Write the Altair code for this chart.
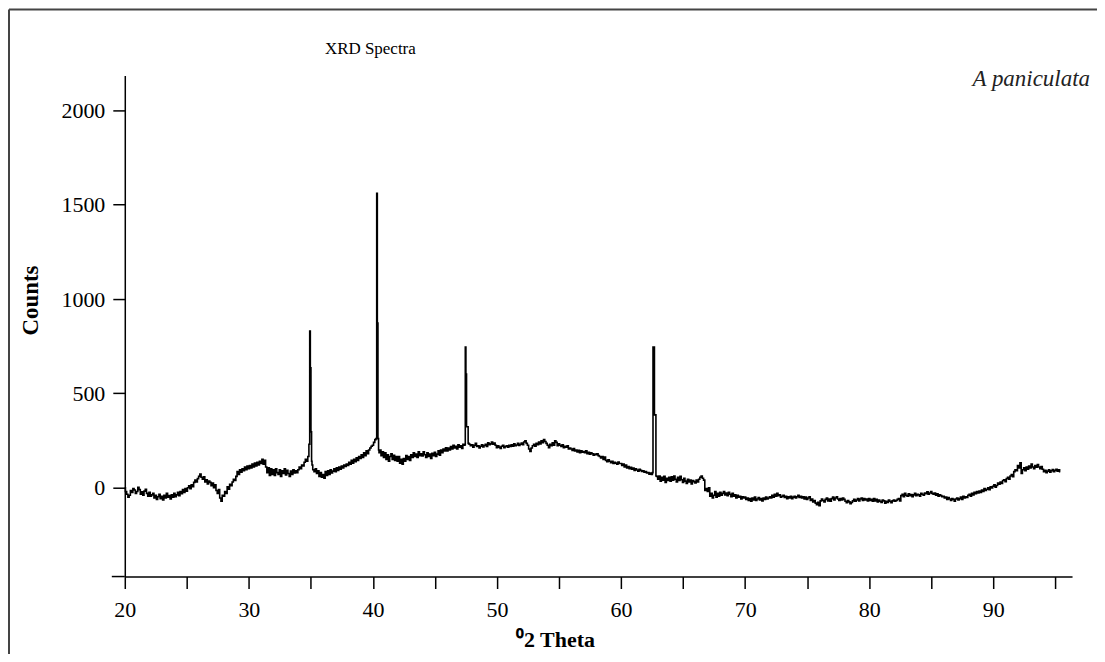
import altair as alt
import pandas as pd
import numpy as np

# ---- data ----
theta_start = 20.0
theta_step = 0.1
# baseline counts every 0.1 degree from 20.0 to 95.4
baseline_counts = [
    0, -20, -35, -50, -40, -15, -25, -5, -12, -30, -20, 2, -10, -35, -22, -40, -18, -8, -30, -45,          # 20
    -25, -45, -38, -30, -55, -40, -62, -48, -35, -58, -45, -65, -40, -55, -30, -50, -42, -60, -38, -50,    # 22
    -30, -48, -38, -25, -42, -20, -32, -10, -25, -5, -18, 0, 10, -5, 15, 5, 28, 40, 30, 48,                # 24
    60, 72, 55, 45, 58, 30, 42, 20, 35, 28, 10, 25, 0, 15, -15, -30, -10, -55, -72, -40,                   # 26
    -45, -20, -30, 5, -8, 18, 10, 30, 45, 38, 60, 85, 70, 95, 82, 100, 90, 110, 95, 115,                   # 28
    100, 118, 105, 125, 110, 130, 115, 135, 120, 140, 128, 150, 125, 145, 110, 80, 105, 65, 100, 70,       # 30
    95, 65, 100, 80, 70, 95, 60, 90, 75, 100, 68, 92, 75, 60, 88, 70, 95, 78, 90, 80,                      # 32
    95, 110, 100, 120, 115, 135, 150, 140, 165, 180, 110, 120, 95, 85, 100, 75, 90, 60, 80, 55,            # 34
    70, 50, 85, 65, 90, 70, 95, 78, 88, 100, 85, 105, 92, 110, 98, 115, 105, 120, 112, 125,                # 36
    118, 135, 125, 145, 130, 150, 138, 158, 145, 165, 155, 175, 160, 185, 170, 195, 180, 200, 210, 220,    # 38
    225, 240, 255, 250, 250, 185, 200, 170, 190, 160, 185, 150, 175, 140, 165, 180, 150, 172, 145, 165,    # 40
    140, 165, 130, 150, 125, 155, 140, 170, 150, 165, 145, 175, 160, 185, 165, 178, 160, 190, 170, 180,    # 42
    168, 190, 175, 160, 185, 165, 178, 155, 182, 170, 188, 165, 178, 195, 172, 200, 185, 205, 195, 212,    # 44
    195, 210, 200, 218, 205, 225, 210, 220, 205, 228, 215, 222, 208, 230, 225, 232, 230, 230, 230, 222,    # 46
    228, 215, 225, 235, 218, 222, 210, 220, 228, 216, 224, 230, 218, 238, 228, 232, 242, 230, 236, 225,    # 48
    212, 222, 215, 208, 220, 225, 212, 218, 222, 214, 225, 218, 228, 220, 232, 222, 226, 235, 224, 230,    # 50
    236, 228, 242, 248, 235, 225, 205, 192, 210, 222, 230, 220, 235, 228, 242, 232, 248, 238, 255, 245,    # 52
    235, 225, 212, 230, 222, 238, 225, 248, 240, 222, 232, 225, 218, 228, 212, 220, 214, 222, 205, 210,    # 54
    205, 198, 208, 195, 200, 190, 198, 186, 195, 188, 192, 185, 196, 180, 188, 178, 185, 180, 172, 178,    # 56
    175, 180, 170, 165, 158, 165, 150, 162, 145, 138, 148, 140, 132, 140, 128, 135, 130, 125, 136, 128,    # 58
    128, 118, 125, 110, 120, 105, 112, 100, 108, 98, 104, 92, 100, 94, 88, 98, 92, 86, 90, 82,             # 60
    85, 78, 80, 72, 78, 70, 70, 70, 70, 60, 45, 62, 35, 55, 40, 60, 28, 50, 38, 55,                        # 62
    35, 58, 40, 62, 45, 30, 55, 38, 60, 42, 28, 50, 35, 22, 45, 30, 40, 20, 38, 32,                        # 64
    25, 40, 30, 45, 55, 62, 50, 40, -15, -5, -20, 0, -45, -30, -55, -40, -20, -50, -30, -45,               # 66
    -25, -40, -30, -20, -38, -28, -42, -25, -35, -48, -30, -45, -38, -55, -40, -50, -45, -60, -48, -55,    # 68
    -50, -62, -55, -68, -58, -72, -55, -65, -50, -68, -60, -52, -65, -58, -70, -55, -62, -50, -60, -55,    # 70
    -48, -55, -40, -50, -35, -45, -30, -42, -38, -50, -45, -40, -52, -45, -58, -48, -55, -45, -58, -50,    # 72
    -45, -55, -48, -40, -52, -45, -55, -48, -60, -50, -62, -55, -48, -68, -60, -75, -68, -82, -90, -78,    # 74
    -95, -70, -60, -68, -75, -62, -55, -70, -60, -72, -58, -50, -65, -55, -48, -60, -68, -58, -65, -55,    # 76
    -62, -72, -80, -68, -75, -85, -78, -70, -62, -72, -65, -58, -70, -60, -55, -68, -58, -65, -60, -70,    # 78
    -58, -68, -62, -72, -58, -70, -62, -75, -66, -72, -78, -65, -70, -82, -72, -78, -66, -72, -80, -70,    # 80
    -65, -72, -68, -62, -58, -70, -42, -35, -48, -30, -40, -45, -32, -42, -36, -48, -38, -30, -42, -35,    # 82
    -38, -45, -30, -35, -40, -28, -32, -22, -35, -28, -20, -30, -35, -28, -40, -32, -45, -38, -42, -48,    # 84
    -45, -55, -50, -62, -52, -60, -68, -58, -62, -72, -60, -55, -65, -58, -50, -62, -45, -55, -48, -52,    # 86
    -40, -35, -45, -30, -38, -25, -32, -20, -28, -18, -25, -12, -20, -5, -15, -8, 0, -10, 5, -2,           # 88
    8, 15, 2, 12, 25, 18, 30, 22, 38, 42, 32, 48, 55, 45, 62, 70, 58, 85, 95, 90,                          # 90
    118, 105, 132, 75, 95, 105, 90, 110, 98, 115, 105, 125, 110, 100, 118, 108, 122, 110, 100, 112,        # 92
    98, 85, 92, 80, 88, 95, 82, 90, 96, 85, 92, 98, 88, 95, 85,                                            # 94
]

# sharp diffraction peaks
peak_theta = [34.88, 34.93, 34.98, 35.03, 35.08,
              40.28, 40.33, 40.38, 40.43, 40.48,
              47.42, 47.47, 47.52, 47.57, 47.65, 47.70,
              62.55, 62.60, 62.66, 62.72, 62.78, 62.84]
peak_counts = [230, 830, 635, 296, 140,
               260, 1560, 873, 260, 200,
               228, 746, 603, 323, 323, 235,
               80, 746, 746, 386, 386, 62]
peak_windows = [(34.88, 35.08), (40.28, 40.48), (47.42, 47.70), (62.55, 62.84)]

x_ticks = [20, 25, 30, 35, 40, 45, 50, 55, 60, 65, 70, 75, 80, 85, 90, 95]
y_ticks = [0, 500, 1000, 1500, 2000]

chart_title = "XRD Spectra"
sample_name = "A paniculata"
x_title = "\u20702 Theta"
y_title = "Counts"

# ---- build table ----
grid = np.round(theta_start + theta_step * np.arange(len(baseline_counts)), 2)
base = pd.DataFrame({"theta": grid, "counts": baseline_counts})
mask = np.ones(len(base), dtype=bool)
for lo, hi in peak_windows:
    mask &= ~((base["theta"] >= lo - 1e-9) & (base["theta"] <= hi + 1e-9))
base = base[mask]
peaks = pd.DataFrame({"theta": peak_theta, "counts": peak_counts})
df = pd.concat([base, peaks]).sort_values("theta").reset_index(drop=True)
df["order"] = np.arange(len(df))

FONT = "Liberation Serif"
W, H = 949, 502

xscale = alt.Scale(domain=[20, 96.35], nice=False, zero=False)
yscale = alt.Scale(domain=[-471, 2185], nice=False, zero=False)

line = alt.Chart(df).mark_line(color="black", strokeWidth=1.6, interpolate="step").encode(
    x=alt.X("theta:Q", scale=xscale, axis=alt.Axis(
        values=x_ticks,
        labelExpr="datum.value % 10 === 0 ? datum.label : ''",
        tickSize=12, tickWidth=1.5, tickColor="black",
        domainColor="black", domainWidth=1.5,
        labelFont=FONT, labelFontSize=22, labelColor="black",
        labelPadding=11, labelFlush=False, grid=False,
        title=x_title, titleFont=FONT, titleFontSize=22,
        titleFontWeight="bold", titleColor="black",
        titleX=431, titleY=70, titleAlign="center", titleBaseline="alphabetic",
    )),
    y=alt.Y("counts:Q", scale=yscale, axis=alt.Axis(
        values=y_ticks, format="d",
        tickSize=12, tickWidth=1.5, tickColor="black",
        domainColor="black", domainWidth=1.5,
        labelFont=FONT, labelFontSize=22, labelColor="black",
        labelPadding=8, grid=False,
        title=y_title, titleFont=FONT, titleFontSize=23,
        titleFontWeight="bold", titleColor="black",
        titleX=-94, titleY=225, titleAngle=270,
        titleAlign="center", titleBaseline="middle",
    )),
    order="order:Q",
)

one = pd.DataFrame({"t": [chart_title]})
title_mark = alt.Chart(one).mark_text(
    font=FONT, fontSize=17, align="center", baseline="alphabetic", color="black"
).encode(x=alt.value(246), y=alt.value(-22), text="t:N")

two = pd.DataFrame({"t": [sample_name]})
sample_mark = alt.Chart(two).mark_text(
    font=FONT, fontSize=23, fontStyle="italic", align="right",
    baseline="alphabetic", color="#222"
).encode(x=alt.value(967), y=alt.value(11), text="t:N")

dummy = pd.DataFrame({"a": [0]})
x_ext = alt.Chart(dummy).mark_rule(color="black", strokeWidth=1.5).encode(
    x=alt.value(-13), x2=alt.value(0), y=alt.value(H))
frame_left = alt.Chart(dummy).mark_rule(color="#444", strokeWidth=2).encode(
    x=alt.value(-116), y=alt.value(-66), y2=alt.value(700))
frame_top = alt.Chart(dummy).mark_rule(color="#444", strokeWidth=2).encode(
    x=alt.value(-116), x2=alt.value(1100), y=alt.value(-66))

chart = alt.layer(frame_left, frame_top, x_ext, line, title_mark, sample_mark).properties(
    width=W, height=H,
    padding={"left": 117, "top": 67, "right": 25, "bottom": 77},
    autosize=alt.AutoSizeParams(type="none"),
    background="white",
).configure_view(stroke="transparent")

chart.save("out.html", embed_options={"renderer": "svg", "actions": False})
